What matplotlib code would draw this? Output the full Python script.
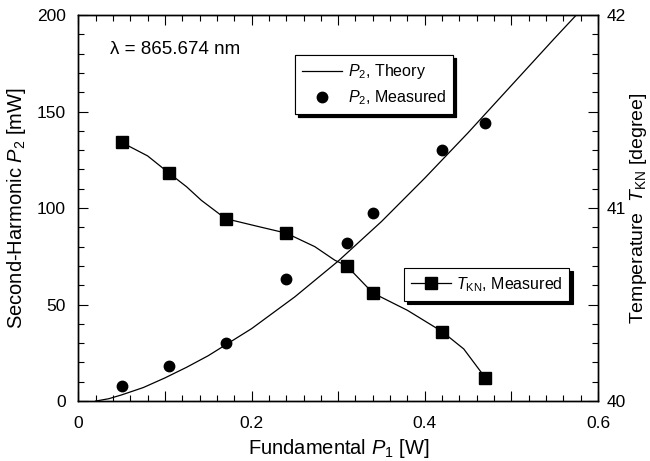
import numpy as np
import matplotlib
matplotlib.use('Agg')
import matplotlib.pyplot as plt
from matplotlib.ticker import MultipleLocator, FuncFormatter

plt.rcParams['font.family'] = ['Liberation Sans', 'DejaVu Sans']
plt.rcParams['mathtext.fontset'] = 'custom'
plt.rcParams['mathtext.rm'] = 'Liberation Sans'
plt.rcParams['mathtext.it'] = 'Liberation Sans:italic'

# measured data
P1_meas = [0.05, 0.105, 0.17, 0.24, 0.31, 0.34, 0.42, 0.47]
P2_meas = [7.9, 18.0, 30.2, 63.0, 81.8, 97.2, 130.2, 144.0]
T_meas = [41.34, 41.18, 40.945, 40.87, 40.70, 40.56, 40.36, 40.12]

# theory curve
P1_theory = [0.02, 0.035, 0.05, 0.075, 0.10, 0.125, 0.15, 0.20, 0.25, 0.30,
             0.35, 0.40, 0.45, 0.50, 0.55, 0.575]
P2_theory = [0.0, 1.2, 3.2, 7.0, 12.0, 17.5, 23.5, 37.5, 54.0, 72.5,
             93.0, 115.5, 139.0, 163.5, 188.0, 200.0]

# smooth guide line through the temperature points
P1_Tline = [0.05, 0.08, 0.105, 0.125, 0.142, 0.17, 0.207, 0.24, 0.273, 0.296,
            0.31, 0.34, 0.38, 0.42, 0.445, 0.47]
T_line = [41.34, 41.27, 41.18, 41.11, 41.04, 40.945, 40.905, 40.87, 40.80, 40.73,
          40.70, 40.56, 40.47, 40.36, 40.27, 40.12]

fig = plt.figure(figsize=(6.5, 4.61), dpi=100)
ax = fig.add_axes([0.1205, 0.130, 0.7995, 0.8375])
ax2 = ax.twinx()

th, = ax.plot(P1_theory, P2_theory, 'k-', lw=0.9, label='$P_2$, Theory')
me, = ax.plot(P1_meas, P2_meas, 'ko', ms=7.5, ls='none', label='$P_2$, Measured')
ax2.plot(P1_Tline, T_line, 'k-', lw=0.9)
ax2.plot(P1_meas, T_meas, 'ks', ms=9, ls='none')
tk, = ax2.plot([], [], 'k-s', ms=9, lw=0.9, label=r'$T_{\rm KN}$, Measured')

ax.set_xlim(0, 0.6)
ax.set_ylim(0, 200)
ax2.set_ylim(40, 42)

ax.xaxis.set_major_locator(MultipleLocator(0.1))
ax.xaxis.set_minor_locator(MultipleLocator(0.02))
ax.xaxis.set_major_formatter(FuncFormatter(
    lambda v, p: ('0' if abs(v) < 1e-9 else '%g' % round(v, 1)) if abs(round(v / 0.2) * 0.2 - v) < 1e-6 else ''))
ax.yaxis.set_major_locator(MultipleLocator(50))
ax.yaxis.set_minor_locator(MultipleLocator(10))
ax2.yaxis.set_major_locator(MultipleLocator(0.5))
ax2.yaxis.set_minor_locator(MultipleLocator(0.1))
ax2.yaxis.set_major_formatter(FuncFormatter(
    lambda v, p: '%d' % round(v) if abs(v - round(v)) < 1e-6 else ''))

ax.tick_params(which='both', direction='in', top=True, right=False, labelsize=12.5)
ax.tick_params(axis='x', pad=11)
ax.tick_params(axis='y', pad=9)
ax.tick_params(which='major', length=7, width=0.8)
ax.tick_params(which='minor', length=4, width=0.8)
ax2.tick_params(which='both', direction='in', labelsize=12.5, pad=6)
ax2.tick_params(which='major', length=7, width=0.8)
ax2.tick_params(which='minor', length=4, width=0.8)
for a in (ax, ax2):
    for s in a.spines.values():
        s.set_linewidth(1.0)

ax.set_xlabel('Fundamental $P_1$ [W]', fontsize=14.5, labelpad=4)
ax.set_ylabel('Second-Harmonic $P_2$ [mW]', fontsize=14.5, labelpad=6)
ax2.set_ylabel(r'Temperature  $T_{\rm KN}$ [degree]', fontsize=14, rotation=90,
               va='center', ha='center')
ax2.yaxis.set_label_coords(1.077, 0.5)

ax.text(0.036, 182, 'λ = 865.674 nm', fontsize=13.5, va='center', ha='left')

leg1 = ax.legend(handles=[th, me], loc='upper left', bbox_to_anchor=(0.417, 0.896),
                 borderaxespad=0, fontsize=11.5, frameon=True, fancybox=False,
                 shadow={'color': 'k', 'alpha': 1, 'ox': 2.2, 'oy': -2.2},
                 edgecolor='k', framealpha=1, handlelength=2.5, borderpad=0.45,
                 labelspacing=0.45, handletextpad=0.35)
leg1.get_frame().set_linewidth(0.8)
ax.add_artist(leg1)
leg2 = ax2.legend(handles=[tk], loc='upper left', bbox_to_anchor=(0.626, 0.345),
                  borderaxespad=0, fontsize=11.5, frameon=True, fancybox=False,
                  shadow={'color': 'k', 'alpha': 1, 'ox': 2.2, 'oy': -2.2},
                  edgecolor='k', framealpha=1, handlelength=2.5, borderpad=0.45,
                  handletextpad=0.3)
leg2.get_frame().set_linewidth(0.8)

fig.savefig('out.png', dpi=100)
